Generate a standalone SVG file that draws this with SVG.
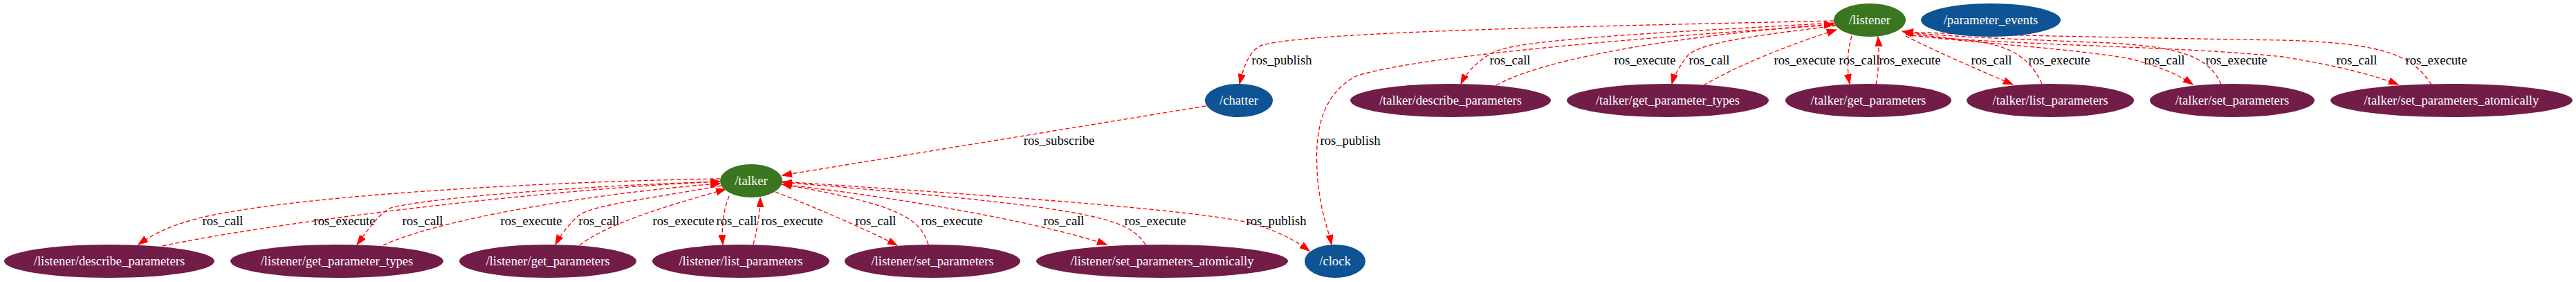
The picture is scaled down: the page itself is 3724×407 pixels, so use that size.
<svg xmlns="http://www.w3.org/2000/svg" width="3724" height="407" viewBox="0 0 3724 407">
<style>
text{font-family:"Liberation Serif","Times New Roman",serif;font-size:18.67px;text-anchor:middle}
.n text{fill:#ffffff}
.e path{fill:none;stroke:#ff0000;stroke-width:1.33;stroke-dasharray:6,3.5;marker-end:url(#ah)}
.e text{fill:#000000}
.node-green{fill:#3a7520}
.node-blue{fill:#0e5394}
.node-purple{fill:#721c48}
</style>
<defs>
<marker id="ah" markerUnits="userSpaceOnUse" markerWidth="16" markerHeight="12" refX="14" refY="5" orient="auto">
<path d="M0,0 L14,5 L0,10 Z" fill="#ff0000" stroke="#ff0000" stroke-width="1"/>
</marker>
</defs>
<rect width="3724" height="407" fill="#ffffff"/>
<g id="edges" class="e">
<path d="M2651,30 C2300,38 1900,45 1825,65 C1805,72 1797,100 1792,121"/>
<text x="1853" y="93">ros_publish</text>
<path d="M2652,36 C2400,52 2050,80 1960,110 C1905,140 1900,200 1905,260 C1910,310 1920,330 1925,353"/>
<text x="1952" y="209">ros_publish</text>
<path d="M2652,33 C2450,45 2200,55 2160,75 C2135,88 2120,105 2112,121"/>
<text x="2183" y="93">ros_call</text>
<path d="M2163,123 C2250,75 2500,45 2651,35"/>
<text x="2378" y="93">ros_execute</text>
<path d="M2655,37 C2550,50 2460,60 2440,80 C2428,95 2420,110 2417,121"/>
<text x="2471" y="93">ros_call</text>
<path d="M2463,123 C2520,90 2600,60 2655,43"/>
<text x="2609" y="93">ros_execute</text>
<path d="M2677,52 C2670,75 2670,100 2674,121"/>
<text x="2688" y="93">ros_call</text>
<path d="M2712,122 C2716,100 2717,80 2715,53"/>
<text x="2761" y="93">ros_execute</text>
<path d="M2755,52 C2800,75 2870,105 2910,122"/>
<text x="2879" y="93">ros_call</text>
<path d="M2952,121 C2935,85 2910,68 2860,60 C2810,54 2780,52 2750,45"/>
<text x="2977" y="93">ros_execute</text>
<path d="M2755,50 C2850,62 3000,70 3080,85 C3120,95 3150,108 3170,122"/>
<text x="3129" y="93">ros_call</text>
<path d="M3211,122 C3195,85 3160,68 3050,62 C2900,56 2800,52 2752,46"/>
<text x="3233" y="93">ros_execute</text>
<path d="M2755,50 C2900,66 3150,66 3300,82 C3380,95 3430,108 3467,122"/>
<text x="3407" y="93">ros_call</text>
<path d="M3515,122 C3490,85 3460,62 3300,58 C3100,55 2850,50 2752,46"/>
<text x="3522" y="93">ros_execute</text>
<path d="M1743,153 L1131,253"/>
<text x="1531" y="209">ros_subscribe</text>
<path d="M1041,258 C800,262 450,280 300,312 C255,322 225,335 200,353"/>
<text x="322" y="325">ros_call</text>
<path d="M235,355 C400,320 800,272 1041,262"/>
<text x="498" y="325">ros_execute</text>
<path d="M1041,262 C850,268 620,285 565,300 C545,310 530,335 516,353"/>
<text x="611" y="325">ros_call</text>
<path d="M554,354 C650,310 900,275 1041,265"/>
<text x="768" y="325">ros_execute</text>
<path d="M1043,268 C950,285 860,295 838,310 C825,320 810,340 803,353"/>
<text x="866" y="325">ros_call</text>
<path d="M838,354 C880,320 990,290 1049,273"/>
<text x="988" y="325">ros_execute</text>
<path d="M1054,283 C1045,305 1043,330 1045,353"/>
<text x="1065" y="325">ros_call</text>
<path d="M1089,353 C1095,330 1099,305 1099,285"/>
<text x="1145" y="325">ros_execute</text>
<path d="M1121,277 C1180,300 1250,330 1297,354"/>
<text x="1266" y="325">ros_call</text>
<path d="M1342,353 C1330,315 1300,295 1131,266"/>
<text x="1376" y="325">ros_execute</text>
<path d="M1130,266 C1300,285 1500,320 1600,353"/>
<text x="1538" y="325">ros_call</text>
<path d="M1656,353 C1630,315 1590,300 1131,263"/>
<text x="1670" y="325">ros_execute</text>
<path d="M1131,262 C1400,280 1700,300 1800,320 C1840,330 1870,345 1893,362"/>
<text x="1845" y="325">ros_publish</text>
</g>
<g id="listener" class="n"><ellipse class="node-green" cx="2703" cy="29" rx="52" ry="24"/><text x="2703" y="35">/listener</text></g>
<g id="parameter_events" class="n"><ellipse class="node-blue" cx="2878" cy="29" rx="101" ry="24"/><text x="2878" y="35">/parameter_events</text></g>
<g id="chatter" class="n"><ellipse class="node-blue" cx="1791" cy="145" rx="49" ry="24"/><text x="1791" y="151">/chatter</text></g>
<g id="talker_describe_parameters" class="n"><ellipse class="node-purple" cx="2097" cy="145" rx="145" ry="24"/><text x="2097" y="151">/talker/describe_parameters</text></g>
<g id="talker_get_parameter_types" class="n"><ellipse class="node-purple" cx="2411" cy="145" rx="146" ry="24"/><text x="2411" y="151">/talker/get_parameter_types</text></g>
<g id="talker_get_parameters" class="n"><ellipse class="node-purple" cx="2701" cy="145" rx="120" ry="24"/><text x="2701" y="151">/talker/get_parameters</text></g>
<g id="talker_list_parameters" class="n"><ellipse class="node-purple" cx="2964" cy="145" rx="121" ry="24"/><text x="2964" y="151">/talker/list_parameters</text></g>
<g id="talker_set_parameters" class="n"><ellipse class="node-purple" cx="3227" cy="145" rx="119" ry="24"/><text x="3227" y="151">/talker/set_parameters</text></g>
<g id="talker_set_parameters_atomically" class="n"><ellipse class="node-purple" cx="3544" cy="145" rx="175" ry="24"/><text x="3544" y="151">/talker/set_parameters_atomically</text></g>
<g id="talker" class="n"><ellipse class="node-green" cx="1086" cy="261" rx="45" ry="24"/><text x="1086" y="267">/talker</text></g>
<g id="listener_describe_parameters" class="n"><ellipse class="node-purple" cx="158" cy="377" rx="152" ry="24"/><text x="158" y="383">/listener/describe_parameters</text></g>
<g id="listener_get_parameter_types" class="n"><ellipse class="node-purple" cx="487" cy="377" rx="154" ry="24"/><text x="487" y="383">/listener/get_parameter_types</text></g>
<g id="listener_get_parameters" class="n"><ellipse class="node-purple" cx="792" cy="377" rx="128" ry="24"/><text x="792" y="383">/listener/get_parameters</text></g>
<g id="listener_list_parameters" class="n"><ellipse class="node-purple" cx="1071" cy="377" rx="128" ry="24"/><text x="1071" y="383">/listener/list_parameters</text></g>
<g id="listener_set_parameters" class="n"><ellipse class="node-purple" cx="1348" cy="377" rx="127" ry="24"/><text x="1348" y="383">/listener/set_parameters</text></g>
<g id="listener_set_parameters_atomically" class="n"><ellipse class="node-purple" cx="1680" cy="377" rx="182" ry="24"/><text x="1680" y="383">/listener/set_parameters_atomically</text></g>
<g id="clock" class="n"><ellipse class="node-blue" cx="1930" cy="377" rx="44" ry="24"/><text x="1930" y="383">/clock</text></g>
</svg>
